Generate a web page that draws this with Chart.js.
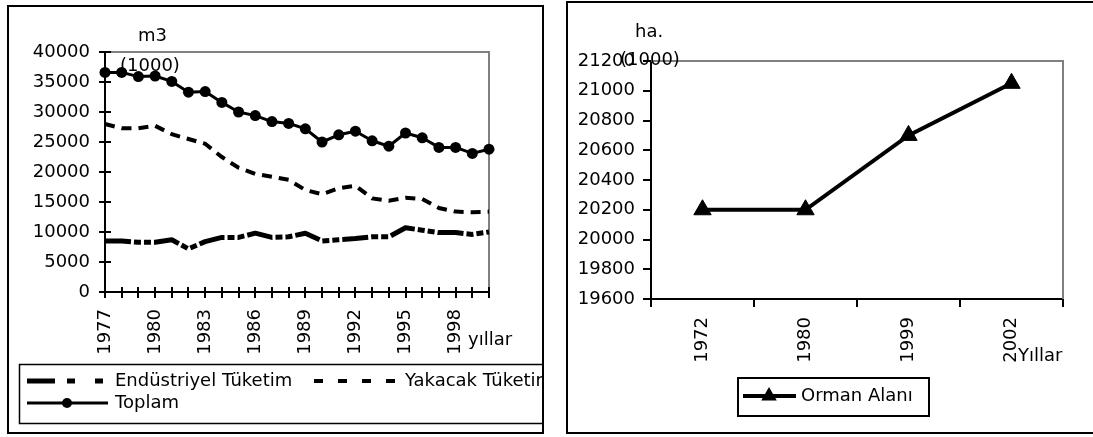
<!DOCTYPE html>
<html><head><meta charset="utf-8">
<script src="https://cdn.jsdelivr.net/npm/chart.js@4/dist/chart.umd.min.js"></script>
<style>
html,body{margin:0;padding:0;background:#fff;width:1093px;height:437px;overflow:hidden;}
#c1{position:absolute;left:0;top:0;width:543px;height:437px;}
#c2{position:absolute;left:545px;top:0;width:548px;height:437px;}
.frame{position:absolute;border:2px solid #000;box-sizing:border-box;pointer-events:none;}
</style></head><body>
<canvas id="c1" width="543" height="437"></canvas>
<canvas id="c2" width="548" height="437"></canvas>
<div class="frame" style="left:7px;top:5px;width:537px;height:429px"></div>
<div class="frame" style="left:566px;top:1px;width:600px;height:433px"></div>
<script>
// ---------- data: left chart ----------
const years = ['1977','1978','1979','1980','1981','1982','1983','1984','1985','1986','1987','1988',
               '1989','1990','1991','1992','1993','1994','1995','1996','1997','1998','1999','2000'];
const yearTickLabels = ['1977','1980','1983','1986','1989','1992','1995','1998'];
const endustriyel = [8500,8500,8300,8300,8700,7200,8400,9100,9100,9800,9100,9200,
                     9800,8500,8700,8900,9200,9200,10700,10300,9900,9900,9600,10000];
const yakacak = [28000,27300,27300,27700,26300,25500,24700,22500,20700,19700,19200,18700,
                 17000,16300,17300,17700,15600,15200,15700,15500,14000,13400,13300,13400];
const toplam = [36600,36600,35900,36000,35100,33300,33400,31600,30000,29400,28400,28100,
                27200,25000,26200,26800,25200,24300,26500,25700,24100,24100,23100,23800];
const leftSeriesNames = ['Endüstriyel Tüketim','Yakacak Tüketim','Toplam'];
const leftYTitle = ['m3','(1000)'];
const leftXTitle = 'yıllar';

// ---------- data: right chart ----------
const forestYears = ['1972','1980','1999','2002'];
const ormanAlani = [20200,20200,20700,21050];
const rightSeriesName = 'Orman Alanı';
const rightYTitle = ['ha.','(1000)'];
const rightXTitle = 'Yıllar';

const FAM = '"DejaVu Sans", sans-serif';
const FS = 18;
const font = {family: FAM, size: FS};

function txt(ctx, s, x, y) {
  ctx.save();
  ctx.font = FS + 'px ' + FAM;
  ctx.fillStyle = '#000';
  ctx.textAlign = 'left';
  ctx.textBaseline = 'middle';
  ctx.fillText(s, x, y);
  ctx.restore();
}

function plotBorder(chart) {
  const {ctx, chartArea: a} = chart;
  ctx.save();
  ctx.strokeStyle = '#808080'; ctx.lineWidth = 2;
  ctx.beginPath();
  ctx.moveTo(a.left, a.top); ctx.lineTo(a.right, a.top); ctx.lineTo(a.right, a.bottom);
  ctx.stroke();
  ctx.restore();
}

const leftDeco = {
  id: 'leftDeco',
  beforeDatasetsDraw(chart) {
    plotBorder(chart);
    const {ctx, chartArea: a, scales: {x, y}} = chart;
    ctx.save();
    ctx.strokeStyle = '#000'; ctx.lineWidth = 2;
    ctx.beginPath();
    y.ticks.forEach((t, i) => { const py = Math.round(y.getPixelForTick(i)); ctx.moveTo(a.left, py); ctx.lineTo(a.left + 6, py); });
    x.ticks.forEach((t, i) => { const px = Math.round(x.getPixelForTick(i)); ctx.moveTo(px, a.bottom); ctx.lineTo(px, a.bottom - 5); });
    ctx.stroke();
    ctx.restore();
  },
  afterDraw(chart) {
    const ctx = chart.ctx;
    txt(ctx, leftYTitle[0], 138, 36);
    txt(ctx, leftYTitle[1], 120, 66);
    txt(ctx, leftXTitle, 468, 340);
    // legend
    ctx.save();
    ctx.strokeStyle = '#000'; ctx.lineWidth = 1.5;
    ctx.strokeRect(19.5, 364.5, 620, 59);
    const r1 = 381, r2 = 403;
    ctx.lineWidth = 5;
    ctx.setLineDash([28, 12, 8, 20, 8, 200]);
    ctx.beginPath(); ctx.moveTo(27, r1); ctx.lineTo(104, r1); ctx.stroke();
    ctx.lineWidth = 4;
    ctx.setLineDash([9, 15]);
    ctx.beginPath(); ctx.moveTo(314, r1); ctx.lineTo(400, r1); ctx.stroke();
    ctx.setLineDash([]);
    ctx.lineWidth = 3;
    ctx.beginPath(); ctx.moveTo(27, r2); ctx.lineTo(108, r2); ctx.stroke();
    ctx.fillStyle = '#000';
    ctx.beginPath(); ctx.arc(67, r2, 5, 0, Math.PI * 2); ctx.fill();
    ctx.restore();
    txt(ctx, leftSeriesNames[0], 115, r1);
    txt(ctx, leftSeriesNames[1], 405, r1);
    txt(ctx, leftSeriesNames[2], 115, r2);
  }
};

const rightDeco = {
  id: 'rightDeco',
  beforeDatasetsDraw(chart) { plotBorder(chart); },
  afterDraw(chart) {
    const ctx = chart.ctx;
    txt(ctx, rightYTitle[0], 90, 32);
    txt(ctx, rightYTitle[1], 75, 60);
    txt(ctx, rightXTitle, 473, 356);
    ctx.save();
    ctx.strokeStyle = '#000'; ctx.lineWidth = 2;
    ctx.strokeRect(193, 378, 191, 38);
    const ry = 396;
    ctx.lineWidth = 4;
    ctx.beginPath(); ctx.moveTo(198, ry); ctx.lineTo(251, ry); ctx.stroke();
    ctx.fillStyle = '#000';
    const cx = 224, r = 9;
    ctx.beginPath();
    ctx.moveTo(cx, ry - r);
    ctx.lineTo(cx + r * 0.866, ry + r / 2);
    ctx.lineTo(cx - r * 0.866, ry + r / 2);
    ctx.closePath(); ctx.fill();
    ctx.restore();
    txt(ctx, rightSeriesName, 256, ry);
  }
};

Chart.defaults.font.family = FAM;
Chart.defaults.font.size = FS;
Chart.defaults.color = '#000';

new Chart(document.getElementById('c1'), {
  type: 'line',
  data: {
    labels: years,
    datasets: [
      {label: leftSeriesNames[0], data: endustriyel, borderColor: '#000', borderWidth: 5,
       borderDash: [26, 3, 7, 3, 7, 3], pointRadius: 0, tension: 0, clip: false, borderJoinStyle: 'round'},
      {label: leftSeriesNames[1], data: yakacak, borderColor: '#000', borderWidth: 4,
       borderDash: [10, 7], pointRadius: 0, tension: 0, clip: false},
      {label: leftSeriesNames[2], data: toplam, borderColor: '#000', borderWidth: 3,
       pointRadius: 5.5, pointBackgroundColor: '#000', pointBorderColor: '#000', pointBorderWidth: 0,
       tension: 0, clip: false, borderJoinStyle: 'round'}
    ]
  },
  options: {
    responsive: false, animation: false,
    layout: {padding: {left: 0, top: 52, right: 54, bottom: 0}},
    plugins: {legend: {display: false}, tooltip: {enabled: false}},
    scales: {
      x: {
        type: 'category', offset: false,
        grid: {drawOnChartArea: false, offset: false, color: '#000', lineWidth: 2, tickLength: 6},
        border: {display: true, color: '#000', width: 2},
        ticks: {autoSkip: false, maxRotation: 90, minRotation: 90, padding: 11, font,
                callback(v, i) { const l = this.getLabelForValue(v); return yearTickLabels.includes(l) ? l : ''; }},
        afterFit(s) { s.height = 145; }
      },
      y: {
        min: 0, max: 40000,
        grid: {drawOnChartArea: false, color: '#000', lineWidth: 2, tickLength: 6},
        border: {display: true, color: '#000', width: 2},
        ticks: {stepSize: 5000, padding: 9, font, autoSkip: false, callback: v => String(v)},
        afterFit(s) { s.width = 105; }
      }
    }
  },
  plugins: [leftDeco]
});

new Chart(document.getElementById('c2'), {
  type: 'line',
  data: {
    labels: forestYears,
    datasets: [
      {label: rightSeriesName, data: ormanAlani, borderColor: '#000', borderWidth: 4,
       pointStyle: 'triangle', pointRadius: 10, pointBackgroundColor: '#000', pointBorderColor: '#000',
       pointBorderWidth: 1, tension: 0, clip: false}
    ]
  },
  options: {
    responsive: false, animation: false,
    layout: {padding: {left: 0, top: 61, right: 30, bottom: 0}},
    plugins: {legend: {display: false}, tooltip: {enabled: false}},
    scales: {
      x: {
        type: 'category', offset: true,
        grid: {drawOnChartArea: false, offset: true, color: '#000', lineWidth: 2, tickLength: 8},
        border: {display: true, color: '#000', width: 2},
        ticks: {autoSkip: false, maxRotation: 90, minRotation: 90, padding: 10, font},
        afterFit(s) { s.height = 138; }
      },
      y: {
        min: 19600, max: 21200,
        grid: {drawOnChartArea: false, color: '#000', lineWidth: 2, tickLength: 8},
        border: {display: true, color: '#000', width: 2},
        ticks: {stepSize: 200, padding: 8, font, autoSkip: false, callback: v => String(v)},
        afterFit(s) { s.width = 106; }
      }
    }
  },
  plugins: [rightDeco]
});
</script>
</body></html>
